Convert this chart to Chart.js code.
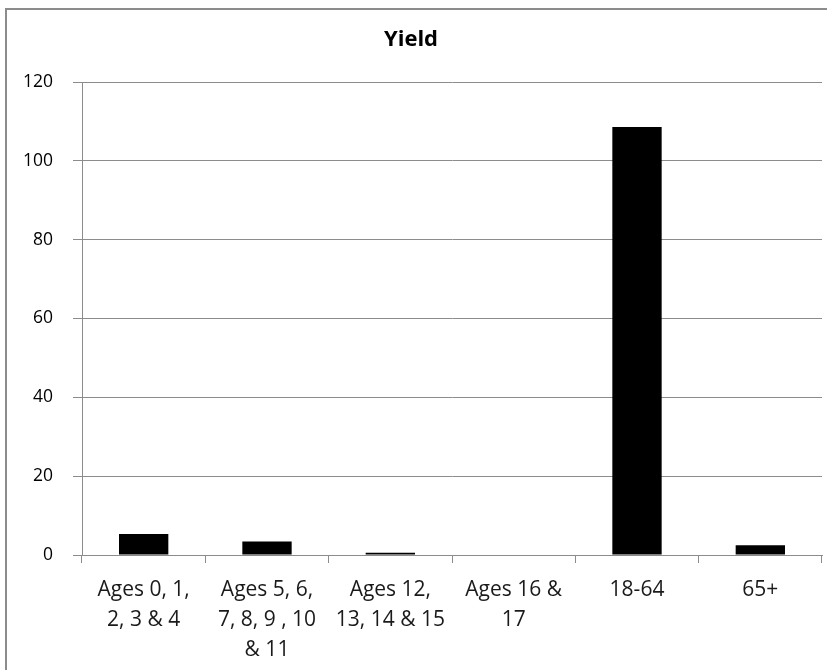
<!DOCTYPE html>
<html>
<head>
<meta charset="utf-8">
<script src="https://cdn.jsdelivr.net/npm/chart.js@4.4.0/dist/chart.umd.min.js"></script>
<style>
  html, body { margin: 0; padding: 0; background: #fff; overflow: hidden; }
  #frame { position: absolute; left: 5px; top: 8px; width: 840px; height: 680px;
           border-top: 2px solid #8c8c8c; border-left: 2px solid #8c8c8c; }
  #wrap { position: absolute; left: 0; top: 0; width: 827px; height: 670px; }
</style>
</head>
<body>
<div id="frame"></div>
<div id="wrap"><canvas id="chart"></canvas></div>
<script>
// categories (multi-line labels as they wrap in the picture)
const categories = [
    ['Ages 0, 1,', '2, 3 & 4'],
    ['Ages 5, 6,', '7, 8, 9 , 10', '& 11'],
    ['Ages 12,', '13, 14 & 15'],
    ['Ages 16 &', '17'],
    ['18-64'],
    ['65+']
];
const yieldValues = [5.3, 3.4, 0.6, 0, 108.6, 2.5];
const yTicks = [0, 20, 40, 60, 80, 100, 120];

const ctx = document.getElementById('chart').getContext('2d');
new Chart(ctx, {
    type: 'bar',
    data: {
        labels: categories,
        datasets: [{ label: 'Yield', data: yieldValues, backgroundColor: '#000', borderWidth: 0,
                     categoryPercentage: 1, barPercentage: 0.4 }]
    },
    options: {
        responsive: true,
        maintainAspectRatio: false,
        animation: false,
        layout: { padding: { left: 0, right: 5, top: 0, bottom: 0 } },
        plugins: {
            legend: { display: false },
            tooltip: { enabled: false },
            title: { display: true, text: 'Yield', color: '#000',
                     font: { family: 'Open Sans', size: 22, weight: 'bold', lineHeight: 1.2 },
                     padding: { top: 27, bottom: 28.6 } }
        },
        scales: {
            x: {
                grid: { drawOnChartArea: false, color: '#8c8c8c', tickLength: 8, offset: true },
                border: { color: '#8c8c8c' },
                ticks: { color: '#1a1a1a', maxRotation: 0, autoSkip: false, padding: 12,
                         font: { family: 'Open Sans', size: 21, lineHeight: 1.43 } },
                afterFit: s => { s.height = 115; }
            },
            y: {
                min: 0, max: 120,
                afterBuildTicks: s => { s.ticks = yTicks.map(v => ({ value: v })); },
                grid: { color: '#8c8c8c', tickLength: 9 },
                border: { color: '#8c8c8c' },
                ticks: { color: '#000', padding: 20, font: { family: 'Open Sans', size: 17.5 } },
                afterFit: s => { s.width = 82; }
            }
        }
    }
});
</script>
</body>
</html>
